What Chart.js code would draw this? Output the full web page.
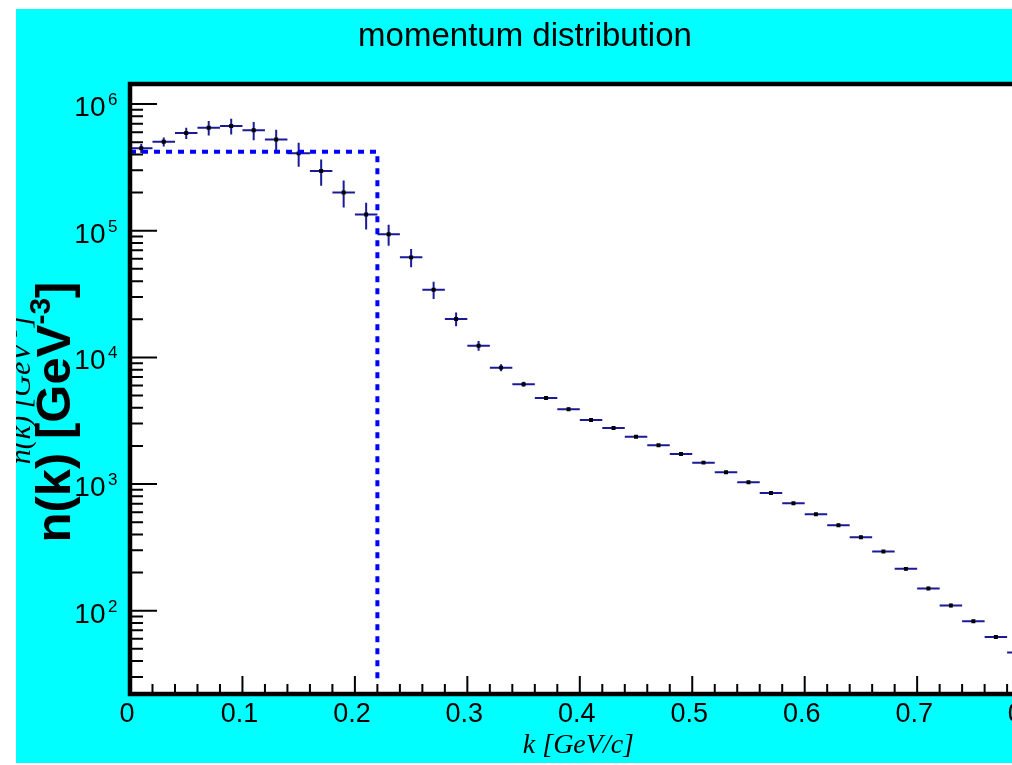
<!DOCTYPE html>
<html>
<head>
<meta charset="utf-8">
<title>momentum distribution</title>
<script src="https://cdn.jsdelivr.net/npm/chart.js@4/dist/chart.umd.min.js"></script>
<style>
	html, body { margin: 0; padding: 0; background: #fff; overflow: hidden; }
	#wrap { width: 1012px; height: 765px; overflow: hidden; position: relative; }
	canvas { position: absolute; left: 0; top: 0; }
</style>
</head>
<body>
<div id="wrap"><canvas id="momentumChart" width="1060" height="765"></canvas></div>
<script>
// bin centres of the histogram, k [GeV/c]
const kCenters = [
	0.01, 0.03, 0.05, 0.07, 0.09, 0.11, 0.13, 0.15, 0.17, 0.19,
	0.21, 0.23, 0.25, 0.27, 0.29, 0.31, 0.33, 0.35, 0.37, 0.39,
	0.41, 0.43, 0.45, 0.47, 0.49, 0.51, 0.53, 0.55, 0.57, 0.59,
	0.61, 0.63, 0.65, 0.67, 0.69, 0.71, 0.73, 0.75, 0.77, 0.79
];
const kHalfWidth = 0.01;

// n(k) values
const nValues = [
	447000, 504000, 590000, 650000, 670000, 620000, 526000, 408000, 295800, 200700,
	134400, 93700, 61600, 34200, 20090, 12370, 8300, 6138, 4784, 3893,
	3206, 2773, 2367, 2025, 1729, 1476, 1239, 1033, 851, 705,
	578, 473, 380, 293, 214, 150, 110, 82.6, 62.1, 46.7
];
const nErrors = [
	36000, 41000, 60000, 86000, 94000, 102000, 100000, 88000, 69000, 48000,
	32000, 17600, 10200, 5300, 2500, 1090, 530, 280, 170, 120,
	95, 75, 60, 50, 42, 35, 30, 25, 21, 17,
	14, 12, 10, 8, 6, 4.5, 3.3, 2.5, 1.9, 1.4
];

// dashed step (Fermi sphere)
const stepK = [0, 0.22, 0.22];
const stepN = [421000, 421000, 27];

const xMajorTicks = [0, 0.1, 0.2, 0.3, 0.4, 0.5, 0.6, 0.7, 0.8];
const yDecades = [2, 3, 4, 5, 6];

const X_MIN = 0, X_MAX = 0.8;
const Y_MIN = 22, Y_MAX = 1.44e6;

const SANS = "'Liberation Sans', Arial, Helvetica, sans-serif";
const SERIF = "'Liberation Serif', 'Times New Roman', serif";

function drawSupText(ctx, parts, cx, cy, align) {
	let total = 0;
	parts.forEach(p => { ctx.font = p.font; p.w = ctx.measureText(p.t).width; total += p.w; });
	let x = align === 'center' ? cx - total / 2 : cx;
	ctx.textAlign = 'left';
	ctx.textBaseline = 'alphabetic';
	parts.forEach(p => {
		ctx.font = p.font;
		ctx.fillText(p.t, x, cy + (p.dy || 0));
		x += p.w;
	});
}

const rootStyle = {
	id: 'rootStyle',
	beforeDraw(chart) {
		const ctx = chart.ctx;
		const a = chart.chartArea;
		ctx.save();
		ctx.fillStyle = '#ffffff';
		ctx.fillRect(0, 0, chart.width, chart.height);
		ctx.fillStyle = '#00ffff';
		ctx.fillRect(16, 9, chart.width - 16, 754);
		ctx.fillStyle = '#ffffff';
		ctx.fillRect(a.left, a.top, a.right - a.left, a.bottom - a.top);
		ctx.restore();
	},
	beforeDatasetsDraw(chart) {
		// error bars
		const ctx = chart.ctx;
		const a = chart.chartArea;
		const xs = chart.scales.x, ys = chart.scales.y;
		ctx.save();
		ctx.beginPath();
		ctx.rect(a.left, a.top, a.right - a.left, a.bottom - a.top);
		ctx.clip();
		ctx.strokeStyle = '#1a1a99';
		ctx.lineWidth = 2;
		kCenters.forEach((k, i) => {
			const v = nValues[i], e = nErrors[i];
			const px = xs.getPixelForValue(k);
			const py = ys.getPixelForValue(v);
			ctx.beginPath();
			ctx.moveTo(xs.getPixelForValue(k - kHalfWidth), py);
			ctx.lineTo(xs.getPixelForValue(k + kHalfWidth), py);
			ctx.moveTo(px, ys.getPixelForValue(v + e));
			ctx.lineTo(px, ys.getPixelForValue(Math.max(v - e, Y_MIN)));
			ctx.stroke();
		});
		ctx.restore();
	},
	afterDraw(chart) {
		const ctx = chart.ctx;
		const a = chart.chartArea;
		const xs = chart.scales.x, ys = chart.scales.y;
		ctx.save();

		// ticks, drawn inside the frame
		ctx.strokeStyle = '#000';
		ctx.lineWidth = 2;
		ctx.beginPath();
		for (let i = 0; i <= 40; i++) {
			const px = xs.getPixelForValue(i * 0.02);
			const len = (i % 5 === 0) ? 18 : 10;
			ctx.moveTo(px, a.bottom);
			ctx.lineTo(px, a.bottom - len);
		}
		for (let d = 1; d <= 6; d++) {
			for (let m = 1; m <= 9; m++) {
				const v = m * Math.pow(10, d);
				if (v < Y_MIN || v > Y_MAX) continue;
				const py = ys.getPixelForValue(v);
				const len = m === 1 ? 27 : 13;
				ctx.moveTo(a.left, py);
				ctx.lineTo(a.left + len, py);
			}
		}
		ctx.stroke();

		// y tick labels 10^n
		ctx.fillStyle = '#000';
		yDecades.forEach(d => {
			const py = ys.getPixelForValue(Math.pow(10, d));
			ctx.font = '28px ' + SANS;
			ctx.textAlign = 'right';
			ctx.textBaseline = 'alphabetic';
			ctx.fillText('10', 105.5, py + 12);
			ctx.font = '17px ' + SANS;
			ctx.textAlign = 'left';
			ctx.fillText(String(d), 108, py + 1);
		});

		// frame
		ctx.lineWidth = 4.5;
		ctx.strokeStyle = '#000';
		ctx.strokeRect(a.left, a.top, a.right - a.left, a.bottom - a.top);

		// title
		ctx.font = '33px ' + SANS;
		ctx.textAlign = 'center';
		ctx.textBaseline = 'alphabetic';
		ctx.fillText('momentum distribution', 525, 46);

		// x axis title
		ctx.font = 'italic 28px ' + SERIF;
		ctx.textAlign = 'right';
		ctx.fillText('k [GeV/c]', 634, 753);

		// faint italic y title, clipped by the pad edge
		ctx.save();
		ctx.beginPath();
		ctx.rect(16, 9, 200, 754);
		ctx.clip();
		ctx.translate(30, 390);
		ctx.rotate(-Math.PI / 2);
		drawSupText(ctx, [
			{ t: 'n(k) [GeV', font: 'italic 30px ' + SERIF },
			{ t: '-3', font: 'italic 19px ' + SERIF, dy: -13 },
			{ t: ']', font: 'italic 30px ' + SERIF }
		], 0, 0, 'center');
		ctx.restore();

		// bold y title
		ctx.save();
		ctx.translate(70, 412);
		ctx.rotate(-Math.PI / 2);
		drawSupText(ctx, [
			{ t: 'n(k) [GeV', font: 'bold 49px ' + SANS },
			{ t: '-3', font: 'bold 30px ' + SANS, dy: -20 },
			{ t: ']', font: 'bold 49px ' + SANS }
		], 0, 0, 'center');
		ctx.restore();

		ctx.restore();
	}
};

new Chart(document.getElementById('momentumChart'), {
	type: 'scatter',
	data: {
		datasets: [
			{
				label: 'step',
				data: stepK.map((k, i) => ({ x: k, y: stepN[i] })),
				showLine: true,
				borderColor: '#0000ff',
				borderWidth: 4,
				borderDash: [6, 6],
				pointRadius: 0,
				tension: 0
			},
			{
				label: 'n(k)',
				data: kCenters.map((k, i) => ({ x: k, y: nValues[i] })),
				showLine: false,
				pointStyle: 'rect',
				pointRadius: 2.8,
				backgroundColor: '#000',
				borderWidth: 0
			}
		]
	},
	options: {
		responsive: false,
		devicePixelRatio: 1,
		animation: false,
		events: [],
		layout: { padding: { left: 0, top: 84, right: 30.4, bottom: 0 } },
		plugins: {
			legend: { display: false },
			title: { display: false },
			tooltip: { enabled: false }
		},
		scales: {
			x: {
				type: 'linear',
				position: 'bottom',
				min: X_MIN,
				max: X_MAX,
				grid: { display: false },
				border: { display: false },
				ticks: {
					stepSize: 0.1,
					autoSkip: false,
					maxRotation: 0,
					padding: -4,
					labelOffset: -3,
					color: '#000',
					font: { family: SANS, size: 27 },
					callback: v => (Math.abs(v) < 1e-9 ? '0' : Number(v).toFixed(1))
				},
				afterFit: s => { s.height = 71; }
			},
			y: {
				type: 'logarithmic',
				min: Y_MIN,
				max: Y_MAX,
				grid: { display: false },
				border: { display: false },
				ticks: { display: false },
				afterFit: s => { s.width = 130; }
			}
		}
	},
	plugins: [rootStyle]
});
</script>
</body>
</html>
